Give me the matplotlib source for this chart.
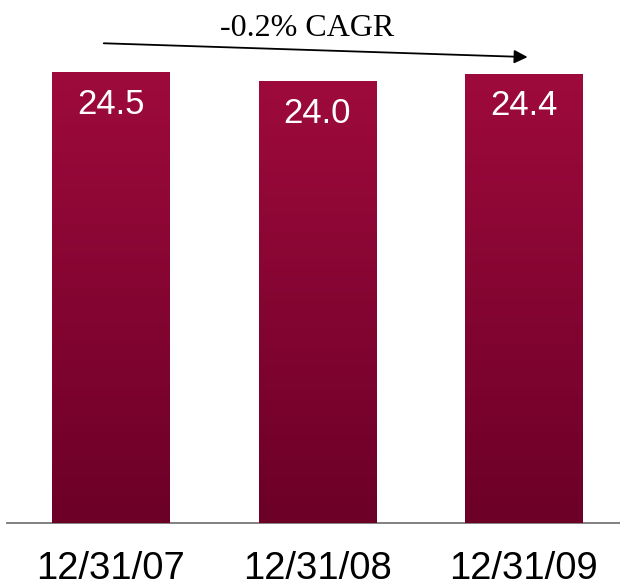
import numpy as np
import matplotlib
matplotlib.use("Agg")
import matplotlib.pyplot as plt
from matplotlib.colors import LinearSegmentedColormap

# data
dates = ["12/31/07", "12/31/08", "12/31/09"]
values = [24.5, 24.0, 24.4]
cagr_label = "-0.2% CAGR"

fig = plt.figure(figsize=(6.2, 5.86), dpi=100)
ax = fig.add_axes([0.011, 0.1075, 0.989, 0.8925])

x = np.arange(len(dates))
width = 0.568
bars = ax.bar(x, values, width=width, color="#860030", zorder=2)

# vertical gradient on each bar, bright crimson at top, darker at bottom
cmap = LinearSegmentedColormap.from_list("maroon", ["#6c0027", "#9e0a3c"])
grad = np.linspace(0, 1, 256).reshape(-1, 1)
for b, v in zip(bars, values):
    im = ax.imshow(grad, cmap=cmap, origin="lower", aspect="auto",
                   extent=[b.get_x(), b.get_x() + b.get_width(), 0, v], zorder=3)
    im.set_clip_path(b)
    ax.text(b.get_x() + b.get_width() / 2, v - 1.75, f"{v:.1f}", color="white",
            ha="center", va="center", fontsize=25, family="Liberation Sans", zorder=4)

ax.set_xlim(-0.505, 2.468)
ax.set_ylim(0, 28.4)

# CAGR arrow
ax.annotate("", xy=(2.02, 25.3), xytext=(-0.035, 26.05),
            arrowprops=dict(arrowstyle="-|>", color="black", lw=1.3,
                            mutation_scale=20, shrinkA=0, shrinkB=0), zorder=5)
ax.text(0.951, 26.85, cagr_label, ha="center", va="center", fontsize=23,
        family="Liberation Serif")

for s in ["top", "right", "left"]:
    ax.spines[s].set_visible(False)
ax.spines["bottom"].set_color("#777777")
ax.spines["bottom"].set_linewidth(1.3)
ax.set_yticks([])
ax.set_xticks(x)
ax.set_xticklabels(dates, fontsize=27.5, family="Liberation Sans")
ax.tick_params(axis="x", length=0, pad=20)

plt.savefig("out.png", dpi=100)
